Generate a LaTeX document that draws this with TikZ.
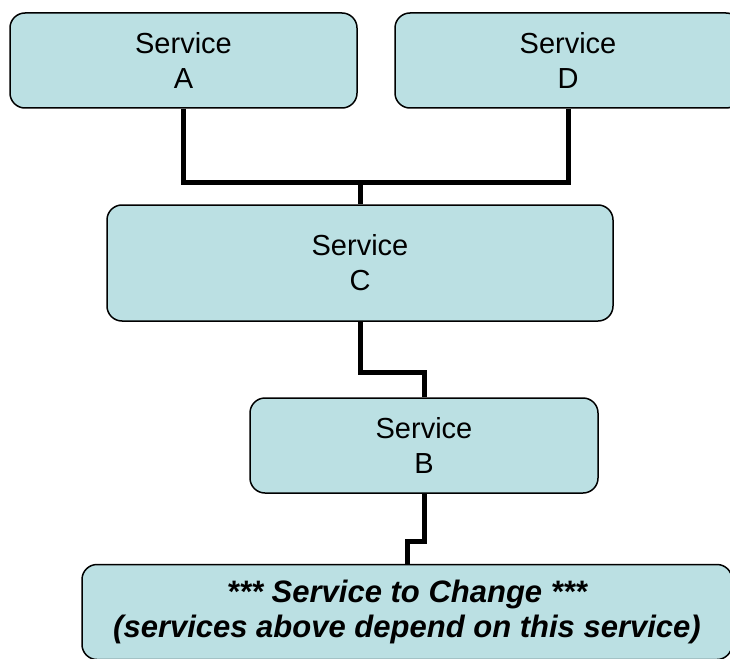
\documentclass[tikz,border=0pt]{standalone}
\usepackage{fontspec}
\setmainfont{Liberation Sans}
\definecolor{servicefill}{RGB}{187,224,227}
\begin{document}
\begin{tikzpicture}[x=1pt,y=-1pt]

\tikzstyle{servicebox} = [draw,fill=servicefill,rounded corners=15,line width=1.5,align=center,inner sep=0,font={\fontsize{29}{35}\selectfont}]
\tikzstyle{dep_line} = [draw=black,line width=5pt]

\useasboundingbox (0,0) rectangle (730,658);
\clip (0,0) rectangle (730,658);

\node [servicebox,minimum width=347,minimum height=95] (sa) at (183.5,60.5) {Service\\A};
\node [servicebox,minimum width=346,minimum height=95] (sd) at (568,60.5) {Service\\D};
\node [servicebox,minimum width=506,minimum height=116] (sc) at (360,263) {Service\\C};
\node [servicebox,minimum width=348,minimum height=95] (sb) at (424,445.5) {Service\\B};
\node [servicebox,minimum width=650,minimum height=95,font={\fontsize{31}{35}\selectfont\bfseries\itshape}] (change) at (407,612) {*** Service to Change ***\\(services above depend on this service)};

\coordinate (jad) at (360,182);
\coordinate (jcb) at (392,372);
\coordinate (jbx) at (415,541);

\draw [dep_line] (sa.south) |- (jad) -| (sd.south);
\draw [dep_line] (jad) -- (sc.north);
\draw [dep_line] (sc.south) |- (jcb) -| (sb.north);
\draw [dep_line] (sb.south) |- (jbx) -| (change.north);
\end{tikzpicture}
\end{document}
